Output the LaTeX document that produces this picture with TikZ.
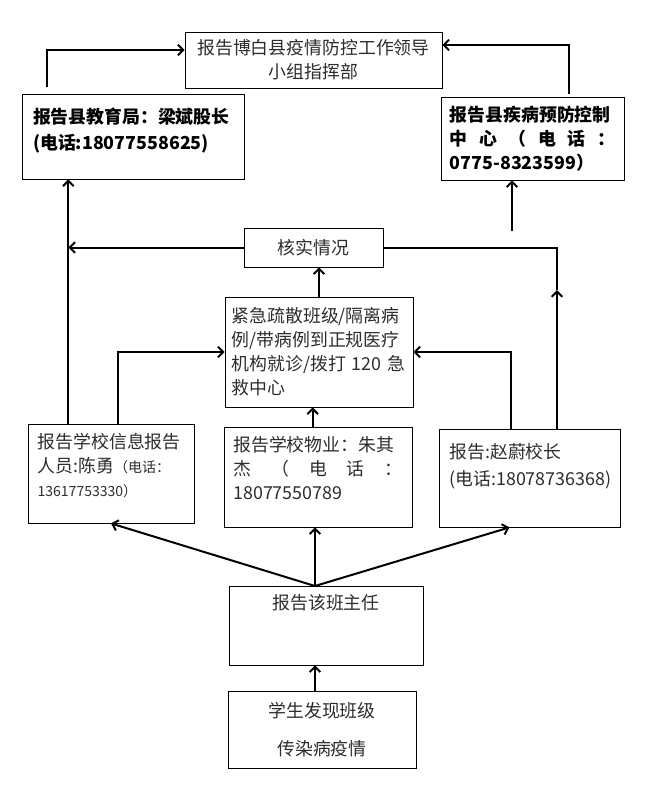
\documentclass[tikz,border=0pt]{standalone}
\usepackage{fontspec}
\setmainfont{Noto Sans CJK SC}
\usetikzlibrary{arrows.meta, positioning, calc}
\definecolor{textgray}{RGB}{45,45,45}
\tikzset{
  box/.style={rectangle, draw=black, line width=0.6pt, fill=white, align=left, inner sep=0pt,
              font=\fontsize{13.4}{18}\selectfont, text=textgray},
  boldbox/.style={box, font=\fontsize{13.4}{18}\selectfont\bfseries, text=black},
  arr/.style={-{Straight Barb[length=4pt, width=8pt]}, line width=1.5pt},
  link/.style={line width=1.5pt},
}
\newcommand{\zhsmall}{\fontsize{10.5}{14}\selectfont}
\newcommand{\spreadline}[1]{\makebox[\hsize][s]{#1}}

\begin{document}
\begin{tikzpicture}[x=0.75pt, y=-0.75pt]
\useasboundingbox (0,0) rectangle (653,793);

% 上层：指挥部与两个上报单位
\node[box, align=center, minimum width=192.75pt, minimum height=42pt, text width=185pt] (lead) at (313.5,60) {报告博白县疫情防控工作领导\\小组指挥部};
\node[boldbox, minimum width=166.5pt, minimum height=63.75pt, text width=150pt, text depth=31.5pt] (edu) at (133,136.5) {报告县教育局：梁斌股长\\[2pt](电话:18077558625)};
\node[boldbox, minimum width=137.25pt, minimum height=62.25pt, text width=124pt] (cdc) at (532.5,138.5) {报告县疾病预防控制\\\spreadline{中\hfill 心\hfill （\hfill 电\hfill 话\hfill ：}\\0775-8323599）};

% 中层：核实与处置
\node[box, align=center, minimum width=104.25pt, minimum height=29.25pt] (check) at (313.5,247.5) {核实情况};
\node[box, minimum width=141pt, minimum height=82.5pt, text width=131pt] (emerg) at (319,352) {紧急疏散班级/隔离病\\例/带病例到正规医疗\\机构就诊/拨打 120 急\\救中心};

% 下层：学校内部上报
\node[box, minimum width=124.5pt, minimum height=74.25pt, text width=110pt, text depth=49.5pt] (info) at (111,473.5) {报告学校信息报告\\人员:陈勇{\zhsmall（电话：}\\{\zhsmall 13617753330）}};
\node[box, minimum width=141pt, minimum height=75pt, text width=127pt, text depth=50pt] (prop) at (318,477) {报告学校物业：朱其\\\spreadline{杰\hfill （\hfill 电\hfill 话\hfill ：}\\18077550789};
\node[box, minimum width=135.75pt, minimum height=73.5pt, text width=120pt, text depth=40pt] (head) at (529.5,478) {报告:赵蔚校长\\[2pt](电话:18078736368)};

% 底层：发现与班主任
\node[box, align=center, minimum width=145.5pt, minimum height=59.25pt, text depth=35pt] (teacher) at (326,625.5) {报告该班主任};
\node[box, align=center, minimum width=141pt, minimum height=57.75pt] (student) at (322,729.5) {学生发现班级\\[10pt]传染病疫情};

% 学生 -> 班主任 -> 三方
\coordinate (fan) at (315,586);
\draw[arr] (fan |- student.north) -- (fan |- teacher.south);
\draw[arr] (fan) -- (fan |- prop.south);
\draw[arr] (fan) -- (info.south);
\draw[arr] (fan) -- ([xshift=-15pt]head.south);

% 三方 -> 处置
\draw[arr] ([xshift=-4pt]prop.north) -- ([xshift=-4pt]prop.north |- emerg.south);
\draw[arr] ([xshift=5pt]info.north) |- (emerg.west);
\draw[arr] ([xshift=-14pt]head.north) |- (emerg.east);
\draw[arr] (emerg.north) -- (emerg.north |- check.south);

% 左侧：信息员 -> 教育局
\coordinate (lup) at ([xshift=-32pt]info.north);
\draw[arr] (lup) -- (lup |- edu.south);
\draw[arr] (check.west) -- (check.west -| lup);

% 右侧：校长 -> 疾控中心
\coordinate (rup) at (557,290);
\draw[link] (check.east) -| (rup);
\draw[arr] (rup |- head.north) -- (rup);
\coordinate (cup) at (512,231);
\draw[arr] (cup) -- (cup |- cdc.south);

% 上报指挥部
\draw[arr] ([xshift=-64.5pt,yshift=5pt]edu.north) |- ([yshift=7.5pt]lead.west);
\draw[arr] ([xshift=27.4pt,yshift=2pt]cdc.north) |- ([yshift=11.25pt]lead.east);

\end{tikzpicture}
\end{document}
